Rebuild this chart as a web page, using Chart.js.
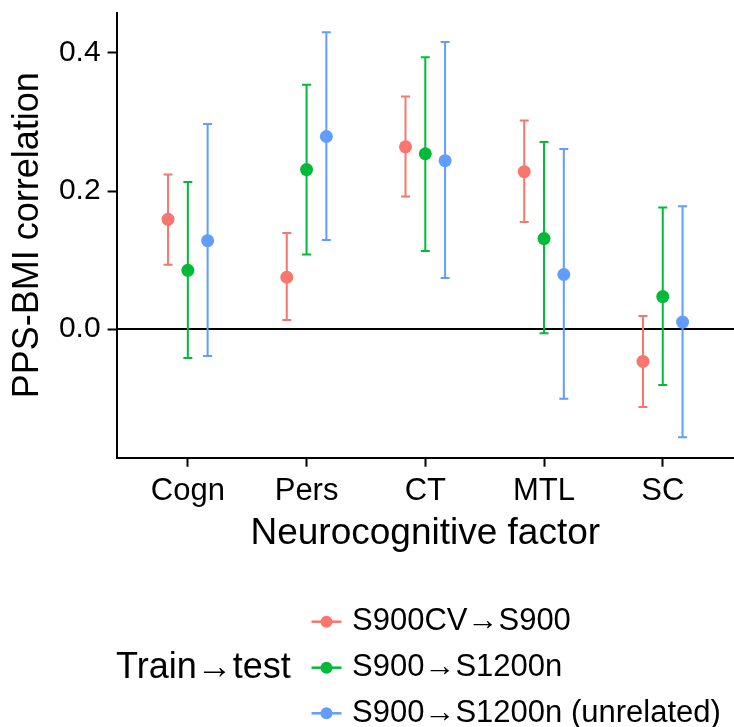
<!DOCTYPE html>
<html>
<head>
<meta charset="utf-8">
<title>PPS-BMI correlation by neurocognitive factor</title>
<script src="https://cdn.jsdelivr.net/npm/chart.js@4.4.1/dist/chart.umd.min.js"></script>
<style>
  html, body { margin: 0; padding: 0; background: #fff; }
  #wrap { width: 734px; height: 727px; }
</style>
</head>
<body>
<div id="wrap"><canvas id="chart" width="734" height="727"></canvas></div>
<script>
// --- data ---
const categories = ['Cogn', 'Pers', 'CT', 'MTL', 'SC'];
const seriesLabels = ['S900CV\u2192S900', 'S900\u2192S1200n', 'S900\u2192S1200n (unrelated)'];
const seriesColors = ['#F8766D', '#00BA38', '#619CFF'];
const legendTitle = 'Train\u2192test';

const estS900CV = [0.159, 0.075, 0.264, 0.228, -0.047];
const estS1200n = [0.085, 0.231, 0.254, 0.131, 0.047];
const estUnrelated = [0.128, 0.279, 0.244, 0.079, 0.010];

const lowS900CV = [0.093, 0.013, 0.192, 0.155, -0.113];
const lowS1200n = [-0.042, 0.108, 0.113, -0.006, -0.081];
const lowUnrelated = [-0.039, 0.129, 0.074, -0.101, -0.157];

const highS900CV = [0.224, 0.139, 0.337, 0.302, 0.019];
const highS1200n = [0.213, 0.354, 0.394, 0.271, 0.176];
const highUnrelated = [0.297, 0.430, 0.416, 0.261, 0.178];

const yTicks = [0.0, 0.2, 0.4];

const estimates = [estS900CV, estS1200n, estUnrelated];
const lows = [lowS900CV, lowS1200n, lowUnrelated];
const highs = [highS900CV, highS1200n, highUnrelated];

// position_dodge(width = 0.5) for three groups
const dodgeWidth = 0.5;
const dodge = s => (s - (seriesLabels.length - 1) / 2) * dodgeWidth / seriesLabels.length;

const FONT = "'Liberation Sans', Arial, sans-serif";
Chart.defaults.font.family = FONT;
Chart.defaults.color = '#000';

const datasets = seriesLabels.map((label, s) => ({
    label: label,
    data: estimates[s].map((v, i) => ({ x: i + dodge(s), y: v, lo: lows[s][i], hi: highs[s][i] })),
    backgroundColor: seriesColors[s],
    borderColor: seriesColors[s],
    borderWidth: 0,
    pointRadius: 6.5,
    pointHoverRadius: 6.5,
    showLine: false
}));

// zero reference line + error bars, drawn under the points
const errorBars = {
    id: 'errorBars',
    beforeDatasetsDraw(chart) {
        const { ctx, chartArea, scales: { x, y } } = chart;
        ctx.save();
        ctx.strokeStyle = '#000';
        ctx.lineWidth = 2;
        const y0 = y.getPixelForValue(0);
        ctx.beginPath();
        ctx.moveTo(chartArea.left, y0);
        ctx.lineTo(chartArea.right, y0);
        ctx.stroke();

        const cap = 4.5;
        chart.data.datasets.forEach((ds, s) => {
            ctx.strokeStyle = seriesColors[s];
            ctx.lineWidth = 2;
            ds.data.forEach(p => {
                const px = x.getPixelForValue(p.x);
                const yl = y.getPixelForValue(p.lo);
                const yh = y.getPixelForValue(p.hi);
                ctx.beginPath();
                ctx.moveTo(px, yl); ctx.lineTo(px, yh);
                ctx.moveTo(px - cap, yl); ctx.lineTo(px + cap, yl);
                ctx.moveTo(px - cap, yh); ctx.lineTo(px + cap, yh);
                ctx.stroke();
            });
        });
        ctx.restore();
    }
};

// ggplot-style legend: title on the left, keys stacked on the right
const sideLegend = {
    id: 'sideLegend',
    afterDraw(chart) {
        const ctx = chart.ctx;
        const rowY = [621.7, 667.7, 713.3];
        ctx.save();
        ctx.textBaseline = 'middle';
        ctx.textAlign = 'left';
        ctx.fillStyle = '#000';
        ctx.font = '36px ' + FONT;
        ctx.fillText(legendTitle, 116, rowY[1]);

        seriesLabels.forEach((label, s) => {
            const cy = rowY[s];
            ctx.strokeStyle = seriesColors[s];
            ctx.lineWidth = 2.5;
            ctx.beginPath();
            ctx.moveTo(311.5, cy);
            ctx.lineTo(341.5, cy);
            ctx.stroke();
            ctx.fillStyle = seriesColors[s];
            ctx.beginPath();
            ctx.arc(326.5, cy, 6, 0, Math.PI * 2);
            ctx.fill();
            ctx.fillStyle = '#000';
            ctx.font = '31px ' + FONT;
            ctx.fillText(label, 352, cy);
        });
        ctx.restore();
    }
};

new Chart(document.getElementById('chart'), {
    type: 'scatter',
    data: { datasets: datasets },
    plugins: [errorBars, sideLegend],
    options: {
        responsive: false,
        animation: false,
        devicePixelRatio: 1,
        events: [],
        layout: {
            autoPadding: false,
            padding: { top: 12.7, right: 0, bottom: 171.3, left: 0 }
        },
        plugins: {
            legend: { display: false },
            tooltip: { enabled: false }
        },
        scales: {
            x: {
                type: 'linear',
                bounds: 'data',
                min: -0.6,
                max: categories.length - 1 + 0.6,
                afterBuildTicks: scale => { scale.ticks = categories.map((c, i) => ({ value: i })); },
                afterFit: scale => {
                    scale.height = 98;
                    scale.paddingLeft = 0;
                    scale.paddingRight = 0;
                },
                ticks: {
                    callback: v => categories[v],
                    font: { size: 31 },
                    color: '#000',
                    padding: 6,
                    maxRotation: 0,
                    autoSkip: false
                },
                grid: {
                    drawOnChartArea: false,
                    drawTicks: true,
                    tickLength: 9,
                    tickWidth: 2,
                    tickColor: '#000'
                },
                border: { display: true, color: '#000', width: 2 },
                title: {
                    display: true,
                    text: 'Neurocognitive factor',
                    font: { size: 37 },
                    color: '#000',
                    padding: { top: 0, bottom: 0 }
                }
            },
            y: {
                type: 'linear',
                bounds: 'data',
                min: -0.1865,
                max: 0.4584,
                afterBuildTicks: scale => { scale.ticks = yTicks.map(v => ({ value: v })); },
                afterFit: scale => {
                    scale.width = 116.6;
                    scale.paddingTop = 0;
                    scale.paddingBottom = 0;
                },
                ticks: {
                    callback: v => v.toFixed(1),
                    font: { size: 30 },
                    color: '#000',
                    padding: 7
                },
                grid: {
                    drawOnChartArea: false,
                    drawTicks: true,
                    tickLength: 9,
                    tickWidth: 2,
                    tickColor: '#000'
                },
                border: { display: true, color: '#000', width: 2 },
                title: {
                    display: true,
                    text: 'PPS-BMI correlation',
                    font: { size: 36 },
                    color: '#000',
                    padding: { top: 6, bottom: 0 }
                }
            }
        }
    }
});
</script>
</body>
</html>
